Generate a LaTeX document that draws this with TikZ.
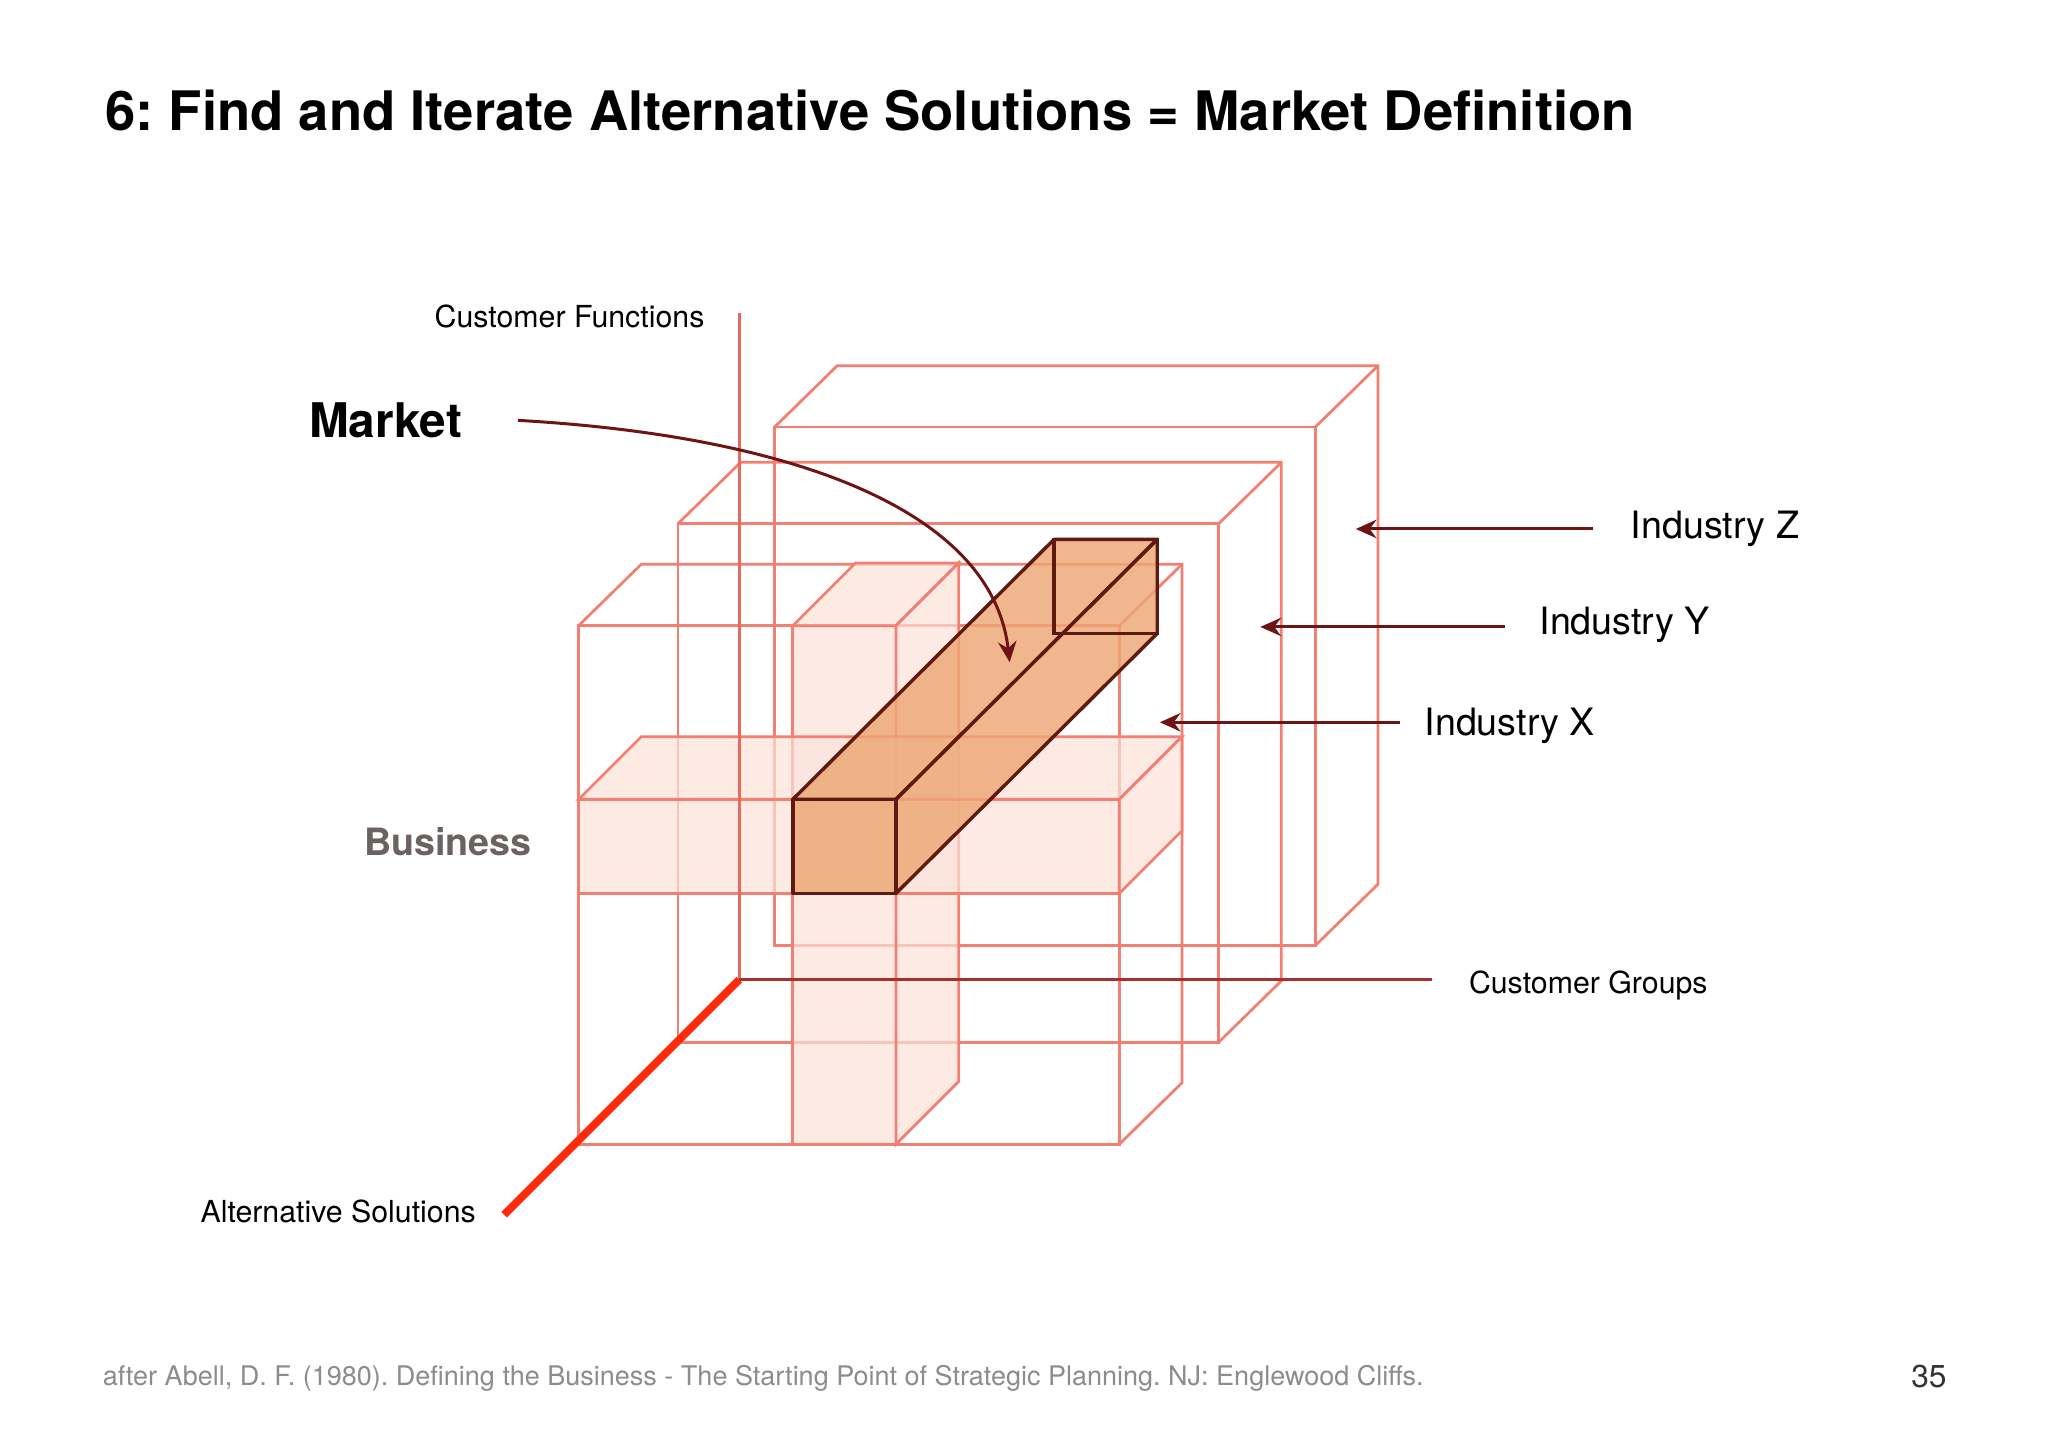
\documentclass[tikz,border=0pt]{standalone}
\usepackage{fontspec}
\setmainfont{TeX Gyre Heros}
\usepackage{xcolor}
\usetikzlibrary{arrows.meta}
\frenchspacing

\definecolor{boxred}{HTML}{F27F72}
\definecolor{pinkfill}{HTML}{FBE2D8}
\definecolor{mktfill}{HTML}{EDA673}
\definecolor{mktedge}{HTML}{5E1A10}
\definecolor{arrowred}{HTML}{6E1414}
\definecolor{axisred}{HTML}{E86A5C}
\definecolor{axisdark}{HTML}{A8302A}
\definecolor{axisbright}{HTML}{FF2A0C}
\definecolor{bizgrey}{HTML}{6B6361}
\definecolor{footgrey}{HTML}{8C8C8C}

\tikzset{
	boxline/.style={draw=boxred, line width=0.6pt},
	slabfill/.style={boxline, fill=pinkfill, fill opacity=0.7},
	mktface/.style={draw=mktedge, line width=0.75pt, fill=mktfill, fill opacity=0.8, line join=round},
	pointer/.style={->, draw=arrowred, line width=0.65pt},
	axislabel/.style={font=\fontsize{6.6}{8}\selectfont},
	industry/.style={font=\fontsize{8.2}{10}\selectfont, anchor=base west}
}

\begin{document}
\begin{tikzpicture}[x=0.01cm, y=-0.01cm, every node/.style={inner sep=0pt},
	>={Stealth[length=4.5pt,width=4pt]}]
	\fill[white] (0,0) rectangle (1568,1109);
	\useasboundingbox (0,0) rectangle (1568,1109);
	
	\node[anchor=base west, font=\fontsize{11.85}{15}\selectfont\bfseries] (title) at (80,100) {6: Find and Iterate Alternative Solutions = Market Definition};
	
	% industries Z, Y, X (back to front)
	\foreach \bx/\by in {593/327, 519/401, 443/479} {
		\draw[boxline] (\bx,\by) rectangle ++(414,397);
		\draw[boxline] (\bx,\by) -- ++(48,-47) -- ++(414,0) -- ++(0,397) -- ++(-48,47);
		\draw[boxline] (\bx+414,\by) -- ++(48,-47);
	}
	
	% business: column and slab
	\filldraw[slabfill] (607,479) rectangle (686,876);
	\filldraw[slabfill] (607,479) -- (655,431) -- (734,431) -- (686,479) -- cycle;
	\filldraw[slabfill] (686,479) -- (734,431) -- (734,828) -- (686,876) -- cycle;
	
	\filldraw[slabfill] (443,612) rectangle (857,684);
	\filldraw[slabfill] (443,612) -- (491,564) -- (905,564) -- (857,612) -- cycle;
	\filldraw[slabfill] (857,612) -- (905,564) -- (905,636) -- (857,684) -- cycle;
	
	% market
	\filldraw[mktface] (607,612) -- (807,413) -- (886,413) -- (686,612) -- cycle;
	\filldraw[mktface] (686,612) -- (886,413) -- (886,485) -- (686,684) -- cycle;
	\filldraw[mktface] (607,612) rectangle (686,684);
	\draw[mktedge, line width=0.75pt] (807,413) rectangle (886,485);
	
	% axes
	\coordinate (o) at (566,750);
	\coordinate (cf) at (566,240);
	\coordinate (cg) at (1096,750);
	\coordinate (as) at (386,930);
	\draw[axisred, line width=0.65pt] (o) -- (cf);
	\draw[axisdark, line width=0.8pt] (o) -- (cg);
	\draw[axisbright, line width=1.7pt] (o) -- (as);
	
	\node[axislabel, anchor=base east] (cflabel) at (540,251) {Customer Functions};
	\node[axislabel, anchor=base west] (cglabel) at (1124,761) {Customer Groups};
	\node[axislabel, anchor=base east] (aslabel) at (365,936) {Alternative Solutions};
	
	\node[anchor=base west, font=\fontsize{10.4}{12}\selectfont\bfseries] (mkt) at (236,335) {Market};
	\node[anchor=base west, font=\fontsize{8.2}{10}\selectfont\bfseries, text=bizgrey] (biz) at (278,655) {Business};
	
	\coordinate (mkttip) at (773,507);
	\draw[pointer] ([xshift=0.42cm]mkt.east) .. controls (610,334) and (760,392) .. (mkttip);
	
	\node[industry] (indz) at (1248,412) {Industry Z};
	\node[industry] (indy) at (1178,486) {Industry Y};
	\node[industry] (indx) at (1090,563) {Industry X};
	
	\coordinate (tipz) at (1038,405);
	\coordinate (tipy) at (965,480);
	\coordinate (tipx) at (888,553);
	\draw[pointer] (indz.west |- tipz) ++(-28,0) -- (tipz);
	\draw[pointer] (indy.west |- tipy) ++(-26,0) -- (tipy);
	\draw[pointer] (indx.west |- tipx) ++(-18,0) -- (tipx);
	
	\node[anchor=base west, font=\fontsize{5.88}{7}\selectfont, text=footgrey] (cite) at (78,1061) {after Abell, D. F. (1980). Defining the Business - The Starting Point of Strategic Planning. NJ: Englewood Cliffs.};
	\node[anchor=base east, font=\fontsize{6.9}{8}\selectfont, text=black!80] (page) at (1491,1062) {35};
\end{tikzpicture}
\end{document}
